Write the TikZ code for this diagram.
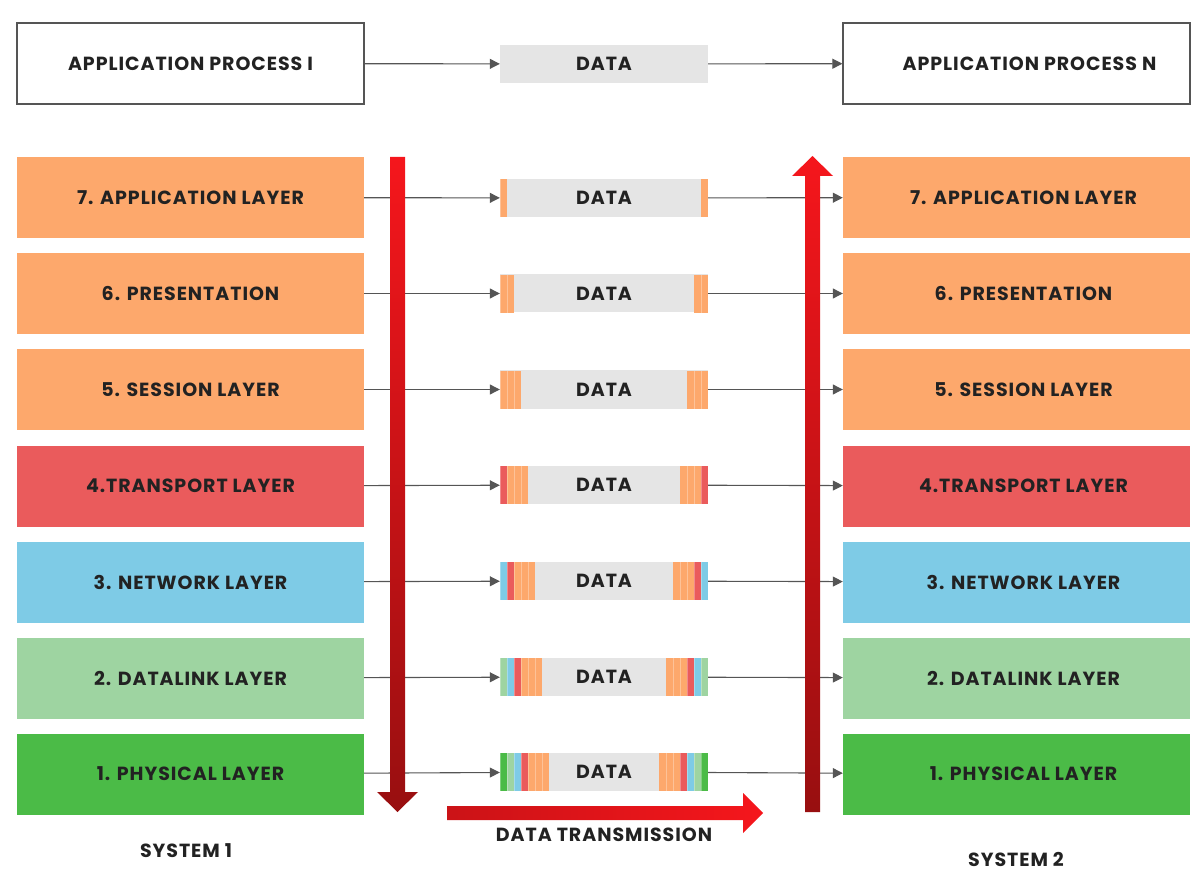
\documentclass[tikz,border=0pt]{standalone}
\usepackage{fontspec}
\setmainfont{Poppins}[LetterSpace=5]
\usetikzlibrary{arrows.meta, positioning}

\definecolor{layorg}{HTML}{FDA86C}
\definecolor{layred}{HTML}{EA5B5C}
\definecolor{layblu}{HTML}{7ECBE6}
\definecolor{laylgn}{HTML}{9ED4A1}
\definecolor{laygrn}{HTML}{4BBB47}
\definecolor{datagray}{HTML}{E5E5E5}
\definecolor{textdark}{HTML}{222222}
\definecolor{linegray}{HTML}{555555}
\definecolor{arrowred}{HTML}{F5161C}
\definecolor{arrowdark}{HTML}{980F10}

\begin{document}
\begin{tikzpicture}[x=1pt, y=-1pt,
    every node/.style={font=\fontsize{19}{22}\selectfont\bfseries, text=textdark},
    layer/.style={minimum width=347pt, minimum height=81pt, inner sep=0pt},
    rlayer/.style={layer, execute at begin node={\hspace*{14pt}}},
    procbox/.style={layer, draw=linegray, line width=1.2pt},
    packet/.style={fill=datagray, minimum width=208pt, minimum height=38pt, inner sep=0pt},
    link/.style={draw=linegray, line width=1.1pt, -{Triangle[length=10pt,width=10pt]}}]
    \useasboundingbox (0,0) rectangle (1202,882);

    % Application processes
    \node[procbox] (appL) at (190.5,63.5) {APPLICATION PROCESS I};
    \node[packet] (dataTop) at (604,64) {DATA};
    \node[procbox, execute at begin node={\hspace*{26pt}}] (appR) at (1016.5,63.5) {APPLICATION PROCESS N};

    % System 1 layers
    \node[layer, fill=layorg] (L7) at (190.5,197.5) {7. APPLICATION LAYER};
    \node[layer, fill=layorg] (L6) at (190.5,293.5) {6. PRESENTATION};
    \node[layer, fill=layorg] (L5) at (190.5,389.5) {5. SESSION LAYER};
    \node[layer, fill=layred] (L4) at (190.5,486) {4.TRANSPORT LAYER};
    \node[layer, fill=layblu] (L3) at (190.5,582) {3. NETWORK LAYER};
    \node[layer, fill=laylgn] (L2) at (190.5,678) {2. DATALINK LAYER};
    \node[layer, fill=laygrn] (L1) at (190.5,774) {1. PHYSICAL LAYER};

    % System 2 layers
    \node[rlayer, fill=layorg] (R7) at (1016.5,197.5) {7. APPLICATION LAYER};
    \node[rlayer, fill=layorg] (R6) at (1016.5,293.5) {6. PRESENTATION};
    \node[rlayer, fill=layorg] (R5) at (1016.5,389.5) {5. SESSION LAYER};
    \node[rlayer, fill=layred] (R4) at (1016.5,486) {4.TRANSPORT LAYER};
    \node[rlayer, fill=layblu] (R3) at (1016.5,582) {3. NETWORK LAYER};
    \node[rlayer, fill=laylgn] (R2) at (1016.5,678) {2. DATALINK LAYER};
    \node[rlayer, fill=laygrn] (R1) at (1016.5,774) {1. PHYSICAL LAYER};

    % Packets
    \node[packet] (P7) at (604,198) {DATA};
    \node[packet] (P6) at (604,293.5) {DATA};
    \node[packet] (P5) at (604,389.5) {DATA};
    \node[packet] (P4) at (604,485) {DATA};
    \node[packet] (P3) at (604,581) {DATA};
    \node[packet] (P2) at (604,677) {DATA};
    \node[packet] (P1) at (604,772) {DATA};

    % Headers and trailers
    \foreach \p/\cols in {P7/{org}, P6/{org,org}, P5/{org,org,org},
        P4/{red,org,org,org}, P3/{blu,red,org,org,org},
        P2/{lgn,blu,red,org,org,org}, P1/{grn,lgn,blu,red,org,org,org}} {
      \foreach \c [count=\i from 0] in \cols {
        \fill[lay\c] ([xshift=\i*7pt]\p.south west) rectangle ++(7pt,38pt);
        \fill[lay\c] ([xshift=-\i*7pt]\p.south east) rectangle ++(-7pt,38pt);
        \draw[white, opacity=.3, line width=.6pt] ([xshift=\i*7pt]\p.south west) -- ++(0pt,38pt);
        \draw[white, opacity=.3, line width=.6pt] ([xshift=-\i*7pt]\p.south east) -- ++(0pt,38pt);
      }
    }

    % Links
    \draw[link] (appL) -- (dataTop);
    \draw[link] (dataTop) -- (appR);
    \draw[link] (L7) -- (P7);  \draw[link] (P7) -- (R7);
    \draw[link] (L6) -- (P6);  \draw[link] (P6) -- (R6);
    \draw[link] (L5) -- (P5);  \draw[link] (P5) -- (R5);
    \draw[link] (L4) -- (P4);  \draw[link] (P4) -- (R4);
    \draw[link] (L3) -- (P3);  \draw[link] (P3) -- (R3);
    \draw[link] (L2) -- (P2);  \draw[link] (P2) -- (R2);
    \draw[link] (L1) -- (P1);  \draw[link] (P1) -- (R1);

    % Flow arrows
    \shade[top color=arrowred, bottom color=arrowdark]
      (390,157) -- (405,157) -- (405,792) -- (418,792) -- (397.5,812)
      -- (377,792) -- (390,792) -- cycle;
    \shade[top color=arrowred, bottom color=arrowdark]
      (805,812) -- (820,812) -- (820,176) -- (833,176) -- (812.5,156)
      -- (792,176) -- (805,176) -- cycle;
    \shade[left color=arrowdark!45!arrowred, right color=arrowred]
      (447,806) -- (743,806) -- (743,793) -- (763,813) -- (743,833)
      -- (743,820) -- (447,820) -- cycle;

    % Captions
    \node (trans) at (604,835) {DATA TRANSMISSION};
    \node (sys1) at (186,851) {SYSTEM 1};
    \node (sys2) at (1016,859) {SYSTEM 2};
\end{tikzpicture}
\end{document}
